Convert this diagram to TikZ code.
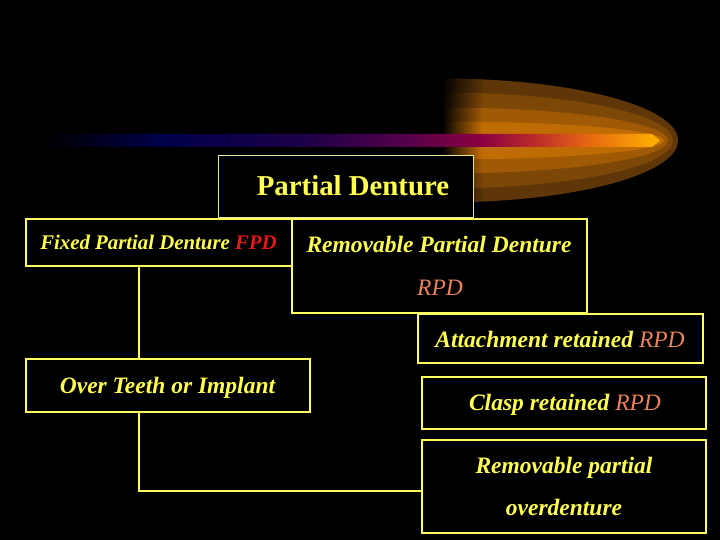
\documentclass[tikz,border=0pt]{standalone}
\usepackage{fontspec}
\setmainfont{Liberation Serif}
\definecolor{ylw}{HTML}{FFFF50}
\definecolor{boxy}{HTML}{FFFF60}
\definecolor{paley}{HTML}{E8E890}
\definecolor{fpdred}{HTML}{E01818}
\definecolor{rpdor}{HTML}{E8845A}
\definecolor{glowa}{HTML}{5E3608}
\definecolor{glowb}{HTML}{7D4708}
\definecolor{glowc}{HTML}{A05A06}
\definecolor{glowd}{HTML}{C06C04}
\definecolor{bara}{HTML}{000022}
\definecolor{barb}{HTML}{00004A}
\definecolor{barc}{HTML}{1A0048}
\definecolor{bard}{HTML}{50004A}
\definecolor{bare}{HTML}{8A0040}
\definecolor{barf}{HTML}{C03028}
\definecolor{barg}{HTML}{E86A10}
\definecolor{barh}{HTML}{FFB400}
\pgfdeclarehorizontalshading{barshade}{100bp}{color(0bp)=(black); color(25bp)=(black); color(29.8bp)=(bara); color(34.7bp)=(barb); color(46bp)=(barc); color(54bp)=(bard); color(60.5bp)=(bare); color(65.3bp)=(barf); color(69.4bp)=(barg); color(75bp)=(barh); color(100bp)=(barh)}
\pgfdeclarehorizontalshading{glowshA}{100bp}{color(0bp)=(black); color(25bp)=(black); color(28bp)=(glowa!35!black); color(34bp)=(glowa); color(75bp)=(glowa); color(100bp)=(glowa)}
\pgfdeclarehorizontalshading{glowshB}{100bp}{color(0bp)=(black); color(25bp)=(black); color(28bp)=(glowb!35!black); color(34bp)=(glowb); color(75bp)=(glowb); color(100bp)=(glowb)}
\pgfdeclarehorizontalshading{glowshC}{100bp}{color(0bp)=(black); color(25bp)=(black); color(28bp)=(glowc!35!black); color(34bp)=(glowc); color(75bp)=(glowc); color(100bp)=(glowc)}
\pgfdeclarehorizontalshading{glowshD}{100bp}{color(0bp)=(black); color(25bp)=(black); color(28bp)=(glowd!35!black); color(34bp)=(glowd); color(75bp)=(glowd); color(100bp)=(glowd)}
\begin{document}
\begin{tikzpicture}[x=1pt,y=-1pt,
  box/.style={draw=boxy, line width=2pt, fill=black, inner sep=0pt, outer sep=0pt},
  conn/.style={draw=boxy, line width=2pt},
  txt/.style={text=ylw, inner sep=0pt, anchor=base, font=\fontsize{23.5}{28}\selectfont\bfseries\itshape},
  rpdtxt/.style={text=rpdor}]
\fill[black] (0,0) rectangle (720,540);
\useasboundingbox (0,0) rectangle (720,540);
% comet glow
\shade[shading=glowshA] (442,78.5) arc[start angle=90,end angle=-90,x radius=236pt,y radius=62pt] -- cycle;
\shade[shading=glowshB] (442,92.5) arc[start angle=90,end angle=-90,x radius=231pt,y radius=48pt] -- cycle;
\shade[shading=glowshC] (442,107.5) arc[start angle=90,end angle=-90,x radius=226pt,y radius=33pt] -- cycle;
\shade[shading=glowshD] (442,121.5) arc[start angle=90,end angle=-90,x radius=222pt,y radius=19pt] -- cycle;
\shade[shading=barshade] (40,134) -- (652,134) -- (660,140.5) -- (652,147) -- (40,147) -- cycle;
% boxes
\node[box, draw=paley, line width=1pt, minimum width=255pt, minimum height=62pt] (pd) at (345.5,187) {};
\node[box, minimum width=266pt, minimum height=47pt] (fpd) at (159,242.5) {};
\node[box, minimum width=295pt, minimum height=94pt] (rpd) at (439.5,266) {};
\node[box, minimum width=285pt, minimum height=49pt] (att) at (560.5,338.5) {};
\node[box, minimum width=284pt, minimum height=53pt] (ot) at (168,385.5) {};
\node[box, minimum width=284pt, minimum height=52pt] (clasp) at (564,403) {};
\node[box, minimum width=284pt, minimum height=93pt] (rpo) at (564,486.5) {};
% connectors
\draw[conn] ([xshift=113pt]fpd.south west) -- ([xshift=113pt]ot.north west);
\draw[conn] ([xshift=113pt]ot.south west) |- ([yshift=-4.5pt]rpo.west);
% texts
\node[txt, font=\fontsize{28.8}{34}\selectfont\bfseries] (tpd) at (353,196) {Partial Denture};
\node[txt, font=\fontsize{20.8}{25}\selectfont\bfseries\itshape] (tfpd) at (158.5,249) {Fixed Partial Denture \textcolor{fpdred}{FPD}};
\node[txt] (trpd) at (439,252) {Removable Partial Denture};
\node[txt, rpdtxt, font=\fontsize{23.5}{28}\selectfont\itshape] (trpd2) at (440,295) {RPD};
\node[txt] (tatt) at (560,347) {Attachment retained {\mdseries\color{rpdor}RPD}};
\node[txt] (tot) at (167.5,393) {Over Teeth or Implant};
\node[txt] (tclasp) at (565,410) {Clasp retained {\mdseries\color{rpdor}RPD}};
\node[txt] (trpo1) at (564,473) {Removable partial};
\node[txt] (trpo2) at (564,515) {overdenture};
\end{tikzpicture}
\end{document}
